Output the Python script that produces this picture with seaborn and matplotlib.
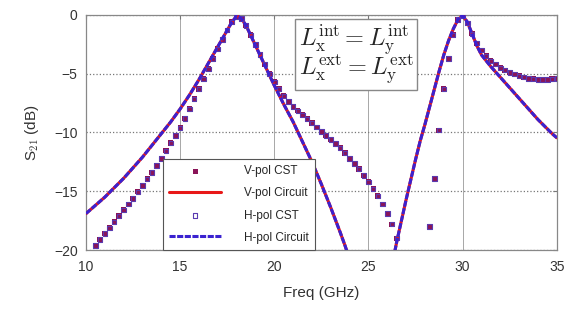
import numpy as np
import pandas as pd
import seaborn as sns
import matplotlib.pyplot as plt

# frequency sweep (GHz), 0.25 GHz step
freq = np.linspace(10, 35, 101)

# circuit model S21 (dB), same for V and H pol
circuit_db = [
    -16.9, -16.55, -16.2, -15.85, -15.5, -15.1, -14.7, -14.3, -13.9, -13.45,
    -13.0, -12.55, -12.1, -11.6, -11.1, -10.6, -10.1, -9.6, -9.1, -8.55,
    -8.0, -7.4, -6.8, -6.15, -5.5, -4.8, -4.1, -3.4, -2.7, -2.0,
    -1.3, -0.6, -0.1, -0.3, -0.9, -1.75, -2.6, -3.45, -4.3, -5.15,
    -6.0, -6.8, -7.6, -8.35, -9.1, -9.95, -10.8, -11.65, -12.5, -13.45,
    -14.4, -15.4, -16.4, -17.45, -18.5, -19.6, -20.8, -22.2, -23.8, -25.8,
    -28.5, -32.0, -35.0, -31.0, -24.5, -21.3, -19.3, -17.5, -15.7, -14.0,
    -12.3, -10.7, -9.3, -7.8, -6.3, -4.8, -3.4, -2.2, -1.2, -0.4,
    -0.05, -0.6, -1.6, -2.6, -3.4, -3.9, -4.4, -4.85, -5.3, -5.75,
    -6.2, -6.65, -7.1, -7.55, -8.0, -8.45, -8.9, -9.3, -9.7, -10.1,
    -10.45,
]

# CST full-wave S21 (dB)
cst_db = [
    -20.9, -20.3, -19.6, -19.1, -18.6, -18.1, -17.6, -17.1, -16.6, -16.1,
    -15.6, -15.05, -14.5, -13.95, -13.4, -12.8, -12.2, -11.55, -10.9, -10.25,
    -9.6, -8.8, -8.0, -7.15, -6.3, -5.45, -4.6, -3.75, -2.9, -2.1,
    -1.3, -0.6, -0.15, -0.3, -0.9, -1.7, -2.5, -3.35, -4.2, -5.0,
    -5.7, -6.3, -6.9, -7.35, -7.8, -8.15, -8.5, -8.85, -9.2, -9.55,
    -9.9, -10.25, -10.6, -10.95, -11.3, -11.75, -12.2, -12.65, -13.1, -13.65,
    -14.2, -14.8, -15.4, -16.1, -16.9, -17.8, -19.0, -21.5, -26.0, -32.0,
    -28.0, -23.0, -21.0, -18.0, -13.9, -9.8, -6.3, -3.7, -1.7, -0.4,
    -0.1, -0.7, -1.6, -2.4, -3.0, -3.5, -3.9, -4.2, -4.5, -4.7,
    -4.9, -5.05, -5.2, -5.3, -5.4, -5.45, -5.5, -5.5, -5.5, -5.45,
    -5.4,
]

vpol_cst = cst_db
hpol_cst = cst_db
vpol_circuit = circuit_db
hpol_circuit = circuit_db

df = pd.DataFrame({"freq": freq, "v_cst": vpol_cst, "h_cst": hpol_cst,
                   "v_circ": vpol_circuit, "h_circ": hpol_circuit})

sns.set_style("white")
plt.rcParams["font.family"] = ["Liberation Sans", "DejaVu Sans"]
plt.rcParams["mathtext.fontset"] = "cm"

fig = plt.figure(figsize=(5.77, 3.11), dpi=100)
ax = fig.add_axes([0.149, 0.196, 0.816, 0.756])

sns.scatterplot(data=df, x="freq", y="v_cst", ax=ax, marker="s", s=14,
                color="#8a1458", edgecolor="none", label="V-pol CST", zorder=3)
sns.lineplot(data=df, x="freq", y="v_circ", ax=ax, color="#e81818", lw=2.2,
             label="V-pol Circuit", zorder=4)
sns.scatterplot(data=df, x="freq", y="h_cst", ax=ax, marker="s", s=10,
                facecolor="none", edgecolor="#5a3ab0", linewidth=0.8,
                label="H-pol CST", zorder=5)
sns.lineplot(data=df, x="freq", y="h_circ", ax=ax, color="#3a22d0", lw=2.2,
             dashes=False, label="H-pol Circuit", zorder=6)
ax.lines[-1].set_dashes([2.0, 0.5])

ax.set_xlim(10, 35)
ax.set_ylim(-20, 0)
ax.set_xticks([10, 15, 20, 25, 30, 35])
ax.set_yticks([0, -5, -10, -15, -20])
ax.xaxis.grid(True, color="#999999", lw=0.6)
ax.yaxis.grid(True, color="#777777", lw=0.9, ls=":")
ax.tick_params(direction="in", top=True, right=True, length=3,
               labelsize=10, labelcolor="#333333", color="#777777")
ax.tick_params(axis="x", pad=7)
ax.tick_params(axis="y", pad=6)
for sp in ax.spines.values():
    sp.set_color("#888888")
    sp.set_linewidth(0.9)

ax.set_xlabel("Freq (GHz)", fontsize=11, color="#333333", labelpad=9)
ax.set_ylabel("S$_{21}$ (dB)", fontsize=11, color="#333333", labelpad=9)

leg = ax.legend(loc="lower left", bbox_to_anchor=(0.163, 0.0), fontsize=8.5,
                frameon=True, fancybox=False, edgecolor="#555555",
                framealpha=1, borderpad=0.55, labelspacing=0.85,
                borderaxespad=0, handlelength=4.4, handletextpad=1.9)
leg.get_frame().set_linewidth(0.8)
leg.set_zorder(10)

ax.text(0.452, 0.968,
        "$L_{\\rm x}^{\\rm int} = L_{\\rm y}^{\\rm int}$\n"
        "$L_{\\rm x}^{\\rm ext} = L_{\\rm y}^{\\rm ext}$",
        transform=ax.transAxes, ha="left", va="top", fontsize=17.5,
        linespacing=0.85, zorder=10,
        bbox=dict(boxstyle="square,pad=0.15", fc="white", ec="#888888", lw=1))

fig.savefig("out.png", dpi=100)
